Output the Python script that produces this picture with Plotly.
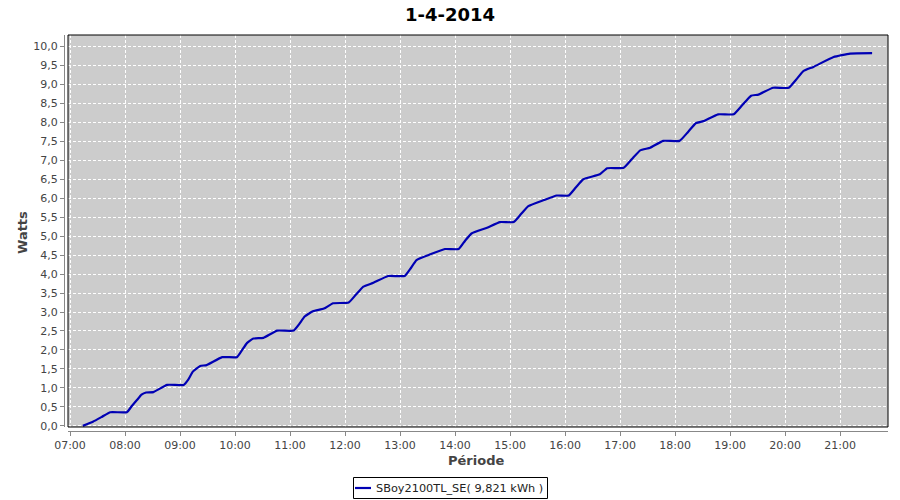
import plotly.graph_objects as go

day = "2014-04-01 "
times = ["07:14", "07:25", "07:35", "07:44", "08:02", "08:07", "08:13", "08:18", "08:23", "08:31", "08:46",
         "09:04", "09:09", "09:14", "09:22", "09:29", "09:46", "10:02", "10:07", "10:13", "10:20", "10:31", "10:46",
         "11:04", "11:10", "11:16", "11:25", "11:37", "11:47", "12:04", "12:12", "12:20", "12:31", "12:47", "13:05",
         "13:11", "13:18", "13:33", "13:49", "14:04", "14:11", "14:18", "14:35", "14:49", "15:04", "15:12", "15:20", "15:37",
         "15:51", "16:04", "16:12", "16:20", "16:38", "16:46", "17:04", "17:13", "17:22", "17:33", "17:47", "18:05",
         "18:14", "18:23", "18:31", "18:47", "19:04", "19:13", "19:23", "19:31", "19:47", "20:04", "20:12", "20:20", "20:31",
         "20:53", "21:11", "21:35"]
values = [0.00, 0.11, 0.24, 0.36, 0.36, 0.51, 0.68, 0.82, 0.88, 0.89, 1.08,
          1.08, 1.22, 1.43, 1.58, 1.60, 1.81, 1.81, 1.97, 2.18, 2.30, 2.32, 2.51,
          2.51, 2.68, 2.88, 3.02, 3.09, 3.23, 3.25, 3.46, 3.67, 3.77, 3.95, 3.95,
          4.13, 4.37, 4.52, 4.66, 4.66, 4.88, 5.07, 5.22, 5.37, 5.37, 5.58, 5.79, 5.95,
          6.07, 6.07, 6.29, 6.50, 6.63, 6.79, 6.80, 7.03, 7.26, 7.33, 7.51, 7.51,
          7.74, 7.98, 8.03, 8.21, 8.21, 8.44, 8.70, 8.73, 8.91, 8.91, 9.12, 9.35, 9.46,
          9.72, 9.81, 9.82]

x_tick_labels = ["07:00", "08:00", "09:00", "10:00", "11:00", "12:00", "13:00", "14:00",
                 "15:00", "16:00", "17:00", "18:00", "19:00", "20:00", "21:00"]
y_tick_values = [0.0, 0.5, 1.0, 1.5, 2.0, 2.5, 3.0, 3.5, 4.0, 4.5, 5.0, 5.5, 6.0, 6.5, 7.0,
                 7.5, 8.0, 8.5, 9.0, 9.5, 10.0]
y_tick_labels = [f"{v:.1f}".replace(".", ",") for v in y_tick_values]

title_text = "1-4-2014"
series_name = "SBoy2100TL_SE( 9,821 kWh )"
x_title = "Période"
y_title = "Watts"

FONT = "DejaVu Sans"
LINE_COLOR = "#0000B4"
L, R, T, B = 64, 12, 35, 69
PW, PH = 900 - L - R, 500 - T - B


def px(xp):
    return (xp - L) / PW


def py(yp):
    return (500 - B - yp) / PH


fig = go.Figure()
fig.add_trace(go.Scatter(
    x=[day + t for t in times], y=values, mode="lines", name=series_name,
    line=dict(color=LINE_COLOR, width=2.2, shape="spline", smoothing=0.4),
    showlegend=False,
))

fig.update_layout(
    width=900, height=500,
    margin=dict(l=L, r=R, t=T, b=B, autoexpand=False),
    paper_bgcolor="white", plot_bgcolor="#CCCCCC",
    font=dict(family=FONT, size=11, color="#444444"),
    title=dict(text=f"<b>{title_text}</b>", x=0.5, xanchor="center", y=1 - 15 / 500,
               yanchor="middle", font=dict(family=FONT, size=18, color="black")),
    showlegend=False,
    xaxis=dict(
        type="date", domain=[4 / PW, 1], anchor="free", position=0, automargin=False,
        range=[day + "06:57:49", day + "21:52:20"],
        tickvals=[day + t for t in x_tick_labels], ticktext=x_tick_labels,
        showgrid=True, gridcolor="white", griddash="3px,2px", gridwidth=1,
        showline=True, linecolor="#888888", linewidth=1,
        ticks="outside", ticklen=4, tickcolor="#888888",
        zeroline=False, tickfont=dict(size=11, color="#444444"),
    ),
    yaxis=dict(
        domain=[4 / PH, 1], anchor="free", position=0, automargin=False,
        range=[-0.03, 10.3],
        tickvals=y_tick_values, ticktext=y_tick_labels,
        showgrid=True, gridcolor="white", griddash="3px,2px", gridwidth=1,
        showline=True, linecolor="#888888", linewidth=1,
        ticks="outside", ticklen=4, tickcolor="#888888",
        zeroline=False, tickfont=dict(size=11, color="#444444"),
    ),
    shapes=[
        dict(type="rect", xref="x domain", yref="y domain", x0=0, x1=1, y0=0, y1=1,
             line=dict(color="black", width=1), fillcolor="rgba(0,0,0,0)", layer="above"),
        # legend box
        dict(type="rect", xref="paper", yref="paper", x0=px(353.5), x1=px(547.5), y0=py(498.5), y1=py(477.5),
             line=dict(color="black", width=1), fillcolor="white"),
        dict(type="line", xref="paper", yref="paper", x0=px(355), x1=px(371), y0=py(488), y1=py(488),
             line=dict(color=LINE_COLOR, width=2.2)),
    ],
    annotations=[
        dict(text=f"<b>{y_title}</b>", xref="paper", yref="paper", x=px(22), y=0.5,
             textangle=-90, showarrow=False, font=dict(family=FONT, size=13, color="#444444"),
             xanchor="center", yanchor="middle"),
        dict(text=f"<b>{x_title}</b>", xref="paper", yref="paper", x=0.5, y=py(460),
             showarrow=False, font=dict(family=FONT, size=13, color="#444444"),
             xanchor="center", yanchor="middle"),
        dict(text=series_name, xref="paper", yref="paper", x=px(374), y=py(488),
             showarrow=False, font=dict(family=FONT, size=11.3, color="#222222"),
             xanchor="left", yanchor="middle"),
    ],
)

fig.write_html("out.html", config={"displayModeBar": False},
               post_script="document.body.style.margin='0';document.body.style.overflow='hidden';")
